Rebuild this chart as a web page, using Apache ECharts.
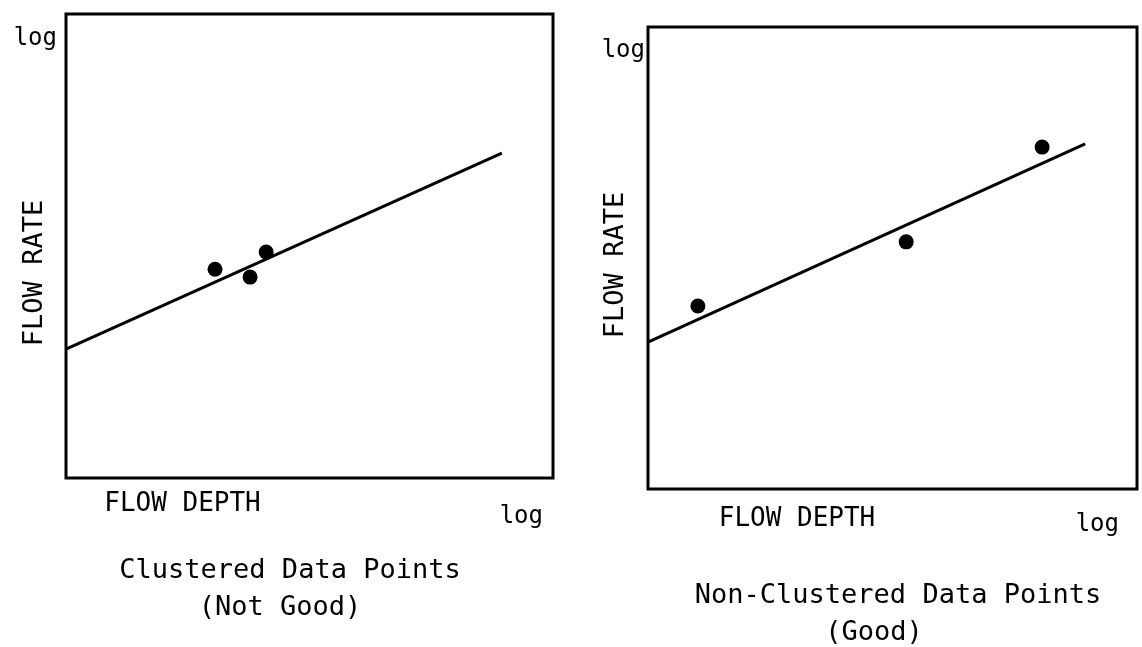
<!DOCTYPE html>
<html>
<head>
<meta charset="utf-8">
<script src="https://cdn.jsdelivr.net/npm/echarts@6/dist/echarts.min.js"></script>
<style>
html,body{margin:0;padding:0;background:#fff;}
#c{width:1142px;height:647px;}
</style>
</head>
<body>
<div id="c"></div>
<script>
// ---- data (positions on a 0-100 relative log scale) ----
var axisEndLabel = 'log';
var xAxisName = 'FLOW DEPTH';
var yAxisName = 'FLOW RATE';

var clusteredPoints = [[30.6, 45.0], [37.8, 43.3], [41.1, 48.7]];
var clusteredFit = [[0, 27.8], [89.5, 70.0]];
var clusteredCaption = ['Clustered Data Points', '(Not Good)'];

var spreadPoints = [[10.2, 39.6], [52.8, 53.5], [80.6, 74.0]];
var spreadFit = [[0, 31.8], [89.4, 74.7]];
var spreadCaption = ['Non-Clustered Data Points', '(Good)'];

var FONT = '"DejaVu Sans Mono", monospace';

function endLabel(v) { return v === 100 ? axisEndLabel : ''; }

function xAxisCfg(idx, gap, pad, lblMargin, lblPadRight) {
  return {
    type: 'value', gridIndex: idx, min: 0, max: 100, interval: 100,
    name: xAxisName, nameLocation: 'middle', nameGap: gap, nameMoveOverlap: false,
    nameTextStyle: { fontFamily: FONT, fontSize: 26, color: '#000', padding: pad },
    axisLine: { show: false }, axisTick: { show: false }, splitLine: { show: false },
    axisLabel: {
      show: true, showMinLabel: true, showMaxLabel: true, hideOverlap: false,
      formatter: endLabel, fontFamily: FONT, fontSize: 24, color: '#000',
      margin: lblMargin, align: 'right', padding: [0, lblPadRight, 0, 0]
    }
  };
}
function yAxisCfg(idx, gap, pad, lblMargin, lblPadTop) {
  return {
    type: 'value', gridIndex: idx, min: 0, max: 100, interval: 100,
    name: yAxisName, nameLocation: 'middle', nameGap: gap, nameRotate: 90, nameMoveOverlap: false,
    nameTextStyle: { fontFamily: FONT, fontSize: 27, color: '#000', padding: pad },
    axisLine: { show: false }, axisTick: { show: false }, splitLine: { show: false },
    axisLabel: {
      show: true, showMinLabel: true, showMaxLabel: true, hideOverlap: false,
      formatter: endLabel, fontFamily: FONT, fontSize: 24, color: '#000',
      margin: lblMargin, verticalAlign: 'top', padding: [lblPadTop, 0, 0, 0]
    }
  };
}
function caption(text, cx, top) {
  return {
    text: text, left: cx, top: top, textAlign: 'center', padding: 0,
    textStyle: { fontFamily: FONT, fontSize: 27, fontWeight: 'normal', color: '#000' }
  };
}

var gridBase = { show: true, borderColor: '#000', borderWidth: 3, backgroundColor: 'transparent',
  containLabel: false, outerBoundsMode: 'none' };

var chart = echarts.init(document.getElementById('c'), null, { renderer: 'canvas' });
chart.setOption({
  backgroundColor: '#fff',
  animation: false,
  title: [
    caption(clusteredCaption[0], 290, 557),
    caption(clusteredCaption[1], 280, 594),
    caption(spreadCaption[0], 898, 582),
    caption(spreadCaption[1], 874, 619)
  ],
  grid: [
    Object.assign({ left: 66, top: 14, width: 487, height: 464 }, gridBase),
    Object.assign({ left: 648, top: 27, width: 489, height: 462 }, gridBase)
  ],
  xAxis: [
    xAxisCfg(0, 13, [0, 254, 0, 0], 27, 10),
    xAxisCfg(1, 17, [0, 191, 0, 0], 24, 18)
  ],
  yAxis: [
    yAxisCfg(0, 18, [0, 54, 0, 0], 9, 13),
    yAxisCfg(1, 19, [0, 14, 0, 0], 3, 12)
  ],
  series: [
    { type: 'line', xAxisIndex: 0, yAxisIndex: 0, data: clusteredFit, symbol: 'none',
      lineStyle: { color: '#000', width: 3 }, silent: true, clip: false },
    { type: 'scatter', xAxisIndex: 0, yAxisIndex: 0, data: clusteredPoints, symbol: 'circle',
      symbolSize: 15, itemStyle: { color: '#000', opacity: 1 } },
    { type: 'line', xAxisIndex: 1, yAxisIndex: 1, data: spreadFit, symbol: 'none',
      lineStyle: { color: '#000', width: 3 }, silent: true, clip: false },
    { type: 'scatter', xAxisIndex: 1, yAxisIndex: 1, data: spreadPoints, symbol: 'circle',
      symbolSize: 15, itemStyle: { color: '#000', opacity: 1 } }
  ]
});
</script>
</body>
</html>
